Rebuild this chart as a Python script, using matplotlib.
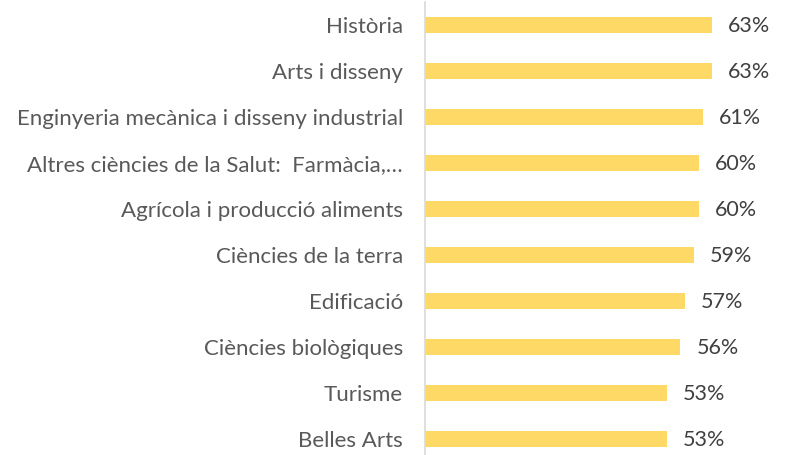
import matplotlib
matplotlib.use("Agg")
import matplotlib.pyplot as plt

categories = [
    "Història",
    "Arts i disseny",
    "Enginyeria mecànica i disseny industrial",
    "Altres ciències de la Salut:  Farmàcia,…",
    "Agrícola i producció aliments",
    "Ciències de la terra",
    "Edificació",
    "Ciències biològiques",
    "Turisme",
    "Belles Arts",
]
values = [63, 63, 61, 60, 60, 59, 57, 56, 53, 53]
value_labels = [f"{v}%" for v in values]

BAR_COLOR = "#FFD966"
LABEL_COLOR = "#595959"
VALUE_COLOR = "#404040"
FONT = ["Lato", "DejaVu Sans"]

W, H, DPI = 785, 455, 100
fig = plt.figure(figsize=(W / DPI, H / DPI), dpi=DPI)

# axes placed in pixel units
ax_left, ax_top, ax_w, ax_h = 425.3, 2, 785 - 425.3, 460
ax = fig.add_axes([ax_left / W, (H - ax_top - ax_h) / H, ax_w / W, ax_h / H])

pos = list(range(len(categories)))
ax.barh(pos, values, height=0.35, color=BAR_COLOR, zorder=2)

px_per_unit = 4.556
ax.set_xlim(0, ax_w / px_per_unit)
ax.set_ylim(len(categories) - 0.5, -0.5)

for p, v, lab in zip(pos, values, value_labels):
    ax.text(v + 16 / px_per_unit, p + 0.03, lab, va="center", ha="left",
            fontsize=15.5, color=VALUE_COLOR, family=FONT)

ax.set_yticks(pos)
ax.set_yticklabels(categories, fontsize=16, color=LABEL_COLOR, family=FONT)
ax.tick_params(axis="y", length=0, pad=16)
ax.set_xticks([])

for side in ["top", "right", "bottom"]:
    ax.spines[side].set_visible(False)
ax.spines["left"].set_color("#D9D9D9")
ax.spines["left"].set_linewidth(1.2)

fig.savefig("out.png", dpi=DPI)
